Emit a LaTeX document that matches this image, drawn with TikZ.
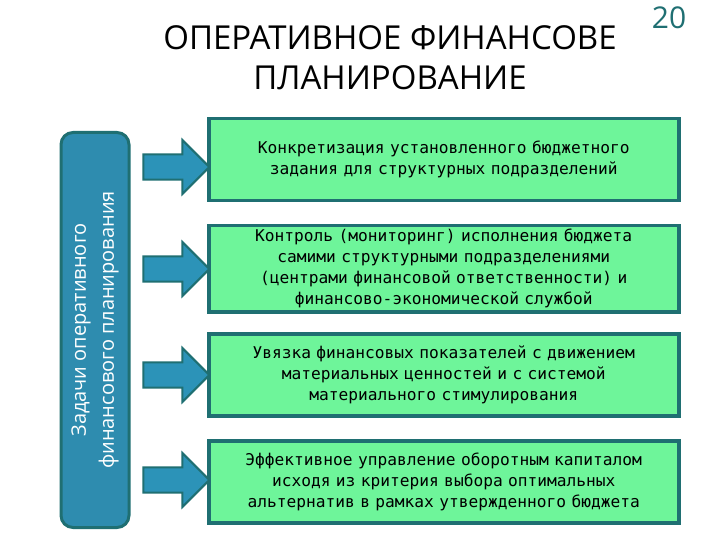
\documentclass[tikz,border=0pt]{standalone}
\usepackage{fontspec}
\setmainfont{Open Sans}
\newfontfamily\mono{DejaVu Sans Mono}
\usetikzlibrary{shapes.arrows}
\definecolor{boxg}{HTML}{6EF59A}
\definecolor{edge}{HTML}{1F6F72}
\definecolor{lblue}{HTML}{2E8CAF}
\definecolor{arr}{HTML}{2C93B8}
\begin{document}
\begin{tikzpicture}[x=1pt,y=-1pt,
  gbox/.style={draw=edge,line width=3.5pt,fill=boxg,minimum width=470pt,anchor=north west,text width=466pt,align=center,font=\mono\fontsize{16.2}{21}\selectfont,inner sep=0pt},
  bigarr/.style={single arrow,draw=edge,line width=2pt,fill=arr,minimum width=54pt,single arrow head extend=9pt,minimum height=66pt,single arrow tip angle=90,inner sep=7pt}]
\useasboundingbox (0,0) rectangle (720,540);
\node[font=\fontsize{33}{40}\selectfont,align=center] (t) at (390,58) {ОПЕРАТИВНОЕ ФИНАНСОВЕ\\ПЛАНИРОВАНИЕ};
\node[font=\fontsize{30}{36}\selectfont,text=edge] (n) at (669,18) {20};
\node[draw=edge,line width=3pt,fill=lblue,rounded corners=12pt,minimum width=68pt,minimum height=395pt] (l) at (95,330) {};
\node[rotate=90,text=white,align=center,font=\fontsize{20}{28}\selectfont] (lt) at (l.center) {Задачи оперативного\\финансового планирования};
\node[gbox,minimum height=82pt] (b1) at (207,117) {Конкретизация установленного бюджетного\\задания для структурных подразделений};
\node[gbox,minimum height=86pt] (b2) at (207,224) {Контроль (мониторинг) исполнения бюджета\\самими структурными подразделениями\\(центрами финансовой ответственности) и\\финансово-экономической службой};
\node[gbox,minimum height=82pt] (b3) at (207,332) {Увязка финансовых показателей с движением\\материальных ценностей и с системой\\материального стимулирования};
\node[gbox,minimum height=82pt] (b4) at (207,439) {Эффективное управление оборотным капиталом\\исходя из критерия выбора оптимальных\\альтернатив в рамках утвержденного бюджета};
\foreach \b/\y in {b1/167,b2/269,b3/375,b4/480}{
  \node[bigarr] (a\b) at (170,\y) {};
}
\end{tikzpicture}
\end{document}
